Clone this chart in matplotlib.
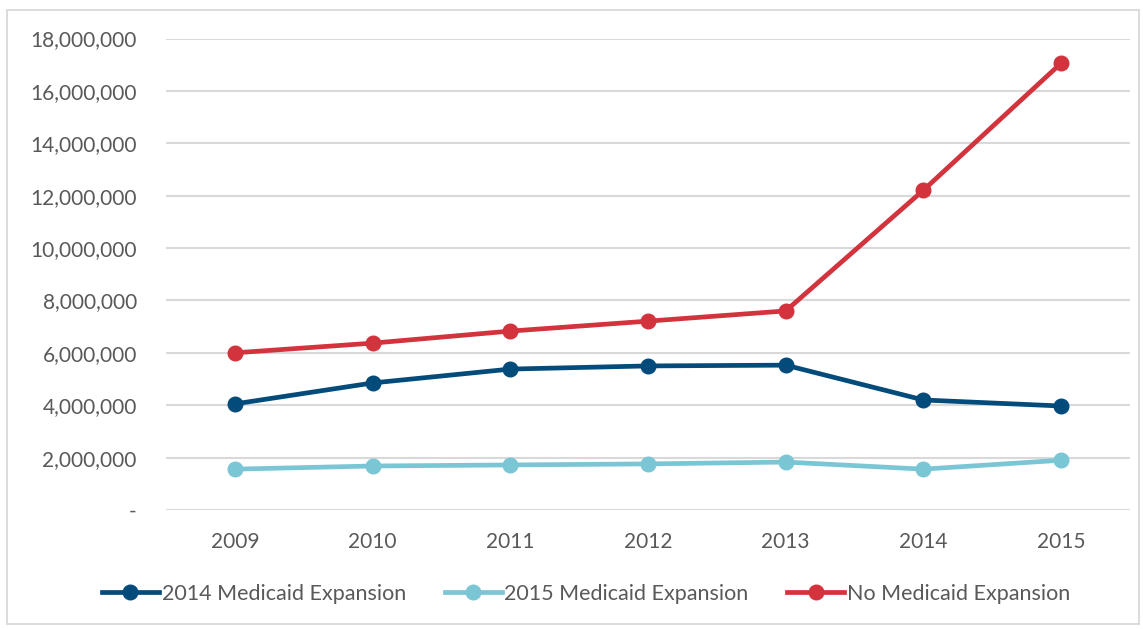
import matplotlib
matplotlib.use("Agg")
import matplotlib.pyplot as plt
from matplotlib.ticker import FuncFormatter

years = ["2009", "2010", "2011", "2012", "2013", "2014", "2015"]
exp2014 = [4050000, 4850000, 5380000, 5500000, 5530000, 4200000, 3970000]
exp2015 = [1560000, 1680000, 1720000, 1760000, 1830000, 1560000, 1900000]
no_exp = [6000000, 6370000, 6830000, 7210000, 7600000, 12210000, 17060000]

series_names = ["2014 Medicaid Expansion", "2015 Medicaid Expansion", "No Medicaid Expansion"]
colors = ["#034B7B", "#7BC6D5", "#D2333C"]

plt.rcParams['font.family'] = ['Lato', 'DejaVu Sans']

fig = plt.figure(figsize=(11.43, 6.29), dpi=100)
ax = fig.add_axes([166/1143, 1-510/629, (1130-166)/1143, (510-38.5)/629])

x = list(range(len(years)))
for vals, name, c in zip([exp2014, exp2015, no_exp], series_names, colors):
    ax.plot(x, vals, color=c, lw=3.4, marker='o', markersize=10.5, label=name,
            solid_joinstyle='round', zorder=3)

ax.set_xlim(-0.5, len(years) - 0.5)
ax.set_ylim(0, 18000000)
ax.set_yticks(range(0, 18000001, 2000000))
ax.yaxis.set_major_formatter(FuncFormatter(lambda v, p: "-" if v == 0 else f"{int(v):,}"))
ax.set_xticks(x)
ax.set_xticklabels(years)
ax.grid(axis='y', color='#D9D9D9', lw=1.5)
ax.set_axisbelow(True)
for s in ax.spines.values():
    s.set_visible(False)
ax.tick_params(axis='both', length=0, labelsize=15, labelcolor='#595959')
ax.tick_params(axis='y', pad=21)
ax.tick_params(axis='x', pad=16)
for lbl in ax.get_yticklabels():
    lbl.set_horizontalalignment('right')

leg = fig.legend(loc='center', bbox_to_anchor=(586/1143, 1-594/629), ncol=3, frameon=False,
                 fontsize=15.5, labelcolor='#595959', handlelength=2.65, handletextpad=0.12,
                 columnspacing=1.8)

# outer border
border = plt.Rectangle((7/1143, 5/629), (1139-7)/1143, (619-5)/629, transform=fig.transFigure,
                       fill=False, edgecolor='#D9D9D9', lw=1.3)
fig.add_artist(border)

fig.savefig("out.png", dpi=100)
